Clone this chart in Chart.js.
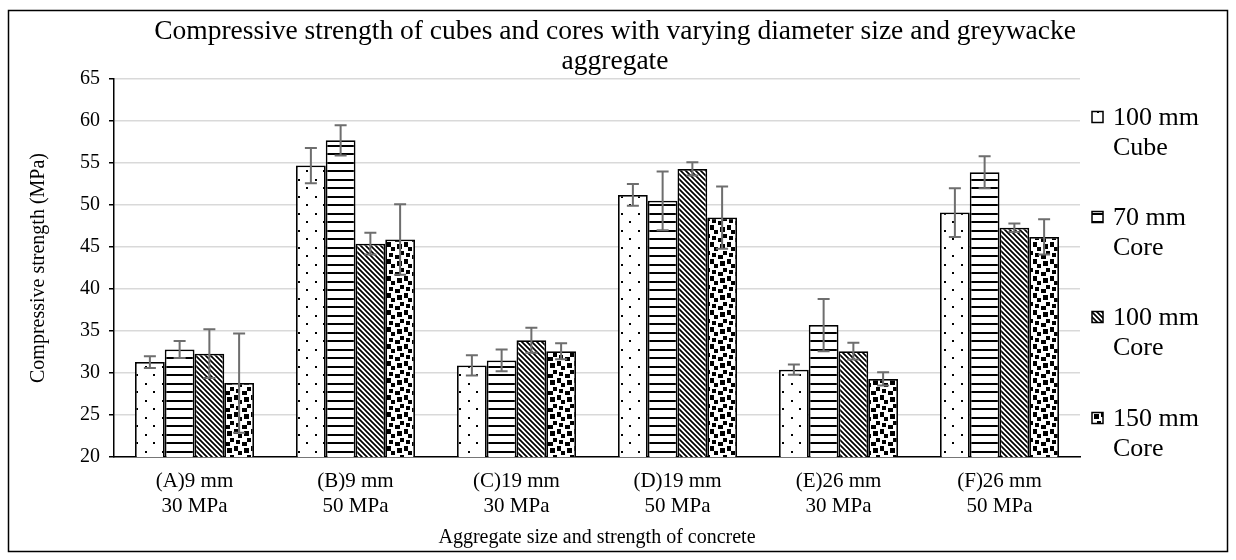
<!DOCTYPE html>
<html>
<head>
<meta charset="utf-8">
<script src="https://cdn.jsdelivr.net/npm/chart.js@4"></script>
<style>
  html, body { margin: 0; padding: 0; background: #fff; }
  #wrap { width: 1236px; height: 560px; position: relative; }
</style>
</head>
<body>
<div id="wrap"><canvas id="chart" width="1236" height="560"></canvas></div>
<script>
// Category labels (two lines each)
const categories = [
  ['(A)9 mm', '30 MPa'],
  ['(B)9 mm', '50 MPa'],
  ['(C)19 mm', '30 MPa'],
  ['(D)19 mm', '50 MPa'],
  ['(E)26 mm', '30 MPa'],
  ['(F)26 mm', '50 MPa']
];

// Series names (two lines each in the legend)
const seriesNames = [
  ['100 mm', 'Cube'],
  ['70 mm', 'Core'],
  ['100 mm', 'Core'],
  ['150 mm', 'Core']
];

// Mean compressive strength (MPa)
const cube100 = [31.3, 54.7, 30.9, 51.2, 30.4, 49.1];
const core70  = [32.8, 57.7, 31.5, 50.5, 35.7, 53.9];
const core100 = [32.3, 45.4, 33.9, 54.3, 32.6, 47.3];
const core150 = [28.8, 45.9, 32.6, 48.5, 29.3, 46.2];

// Error bar half-widths (MPa)
const cube100Err = [0.7, 2.1, 1.2, 1.3, 0.6, 2.9];
const core70Err  = [1.0, 1.8, 1.3, 3.5, 3.1, 1.9];
const core100Err = [2.9, 1.3, 1.5, 0.8, 1.0, 0.5];
const core150Err = [5.9, 4.2, 0.95, 3.7, 0.8, 2.1];

// Value axis ticks
const yMin = 20, yMax = 65, yStep = 5;

const chartTitle = ['Compressive strength of cubes and cores with varying diameter size and greywacke', 'aggregate'];
const yTitle = 'Compressive strength (MPa)';
const xTitle = 'Aggregate size and strength of concrete';

const FONT = "'Liberation Serif', 'Times New Roman', serif";

// 8x8 hatch bitmaps, one byte per row
const hatchDots     = [0x01, 0x00, 0x00, 0x00, 0x10, 0x00, 0x00, 0x00];
const hatchHoriz    = [0xff, 0x00, 0x00, 0x00, 0xff, 0x00, 0x00, 0x00];
const hatchConfetti = [0x8d, 0x0c, 0xc0, 0xd8, 0x1b, 0x03, 0x30, 0xb1];

function makeHatch(bits, tile) {
  const cv = document.createElement('canvas');
  cv.width = tile; cv.height = tile;
  const g = cv.getContext('2d');
  g.fillStyle = '#fff';
  g.fillRect(0, 0, tile, tile);
  g.fillStyle = '#000';
  const edge = i => Math.round(i * tile / 8);
  for (let r = 0; r < 8; r++) {
    for (let c = 0; c < 8; c++) {
      if ((bits[r] >> c) & 1) {
        g.fillRect(edge(c), edge(r), edge(c + 1) - edge(c), edge(r + 1) - edge(r));
      }
    }
  }
  return g.createPattern(cv, 'repeat');
}

// Downward diagonal stripes ("\\\")
function makeDiagonal(tile, width) {
  const cv = document.createElement('canvas');
  cv.width = tile; cv.height = tile;
  const g = cv.getContext('2d');
  g.fillStyle = '#fff';
  g.fillRect(0, 0, tile, tile);
  g.strokeStyle = '#000';
  g.lineWidth = width;
  const step = tile / 2;
  g.beginPath();
  for (let k = -3; k <= 3; k++) {
    const x0 = k * step;
    g.moveTo(x0 - 2, -2);
    g.lineTo(x0 + tile + 2, tile + 2);
  }
  g.stroke();
  return g.createPattern(cv, 'repeat');
}

const ctx = document.getElementById('chart').getContext('2d');
const patterns = [
  makeHatch(hatchDots, 17),
  makeHatch(hatchHoriz, 17),
  makeDiagonal(10, 1.7),
  makeHatch(hatchConfetti, 17)
];

const seriesValues = [cube100, core70, core100, core150];
const seriesErrors = [cube100Err, core70Err, core100Err, core150Err];

// Frame, title, legend and error bars
const decorations = {
  id: 'decorations',
  beforeDraw(chart) {
    const c = chart.ctx;
    c.save();
    c.fillStyle = '#fff';
    c.fillRect(0, 0, chart.width, chart.height);
    c.strokeStyle = '#000';
    c.lineWidth = 1.5;
    c.strokeRect(8.5, 10.5, 1219, 541);
    c.restore();
  },
  afterDatasetsDraw(chart) {
    const c = chart.ctx;
    const yScale = chart.scales.y;
    c.save();
    c.strokeStyle = '#6e6e6e';
    c.lineWidth = 2;
    chart.data.datasets.forEach((ds, di) => {
      const meta = chart.getDatasetMeta(di);
      meta.data.forEach((bar, i) => {
        const v = ds.data[i], e = seriesErrors[di][i];
        const yHi = yScale.getPixelForValue(v + e);
        const yLo = yScale.getPixelForValue(v - e);
        const x = bar.x;
        c.beginPath();
        c.moveTo(x, yHi); c.lineTo(x, yLo);
        c.moveTo(x - 6, yHi); c.lineTo(x + 6, yHi);
        c.moveTo(x - 6, yLo); c.lineTo(x + 6, yLo);
        c.stroke();
      });
    });
    c.restore();
  },
  afterDraw(chart) {
    const c = chart.ctx;
    c.save();
    c.fillStyle = '#000';
    c.textAlign = 'center';
    c.textBaseline = 'alphabetic';
    c.font = '27.5px ' + FONT;
    c.fillText(chartTitle[0], 615, 39);
    c.fillText(chartTitle[1], 615, 69);

    // legend
    c.font = '26px ' + FONT;
    c.textAlign = 'left';
    const baselines = [125, 225, 325, 426];
    chart.data.datasets.forEach((ds, di) => {
      const b = baselines[di];
      const size = 11;
      const ix = 1092, iy = b - 8 - size / 2;
      c.fillStyle = ds.backgroundColor;
      c.fillRect(ix, iy, size, size);
      c.strokeStyle = '#000';
      c.lineWidth = 1.5;
      c.strokeRect(ix, iy, size, size);
      c.fillStyle = '#000';
      c.fillText(seriesNames[di][0], 1113, b);
      c.fillText(seriesNames[di][1], 1113, b + 30);
    });
    c.restore();
  }
};

new Chart(ctx, {
  type: 'bar',
  data: {
    labels: categories,
    datasets: seriesValues.map((vals, i) => ({
      label: seriesNames[i].join(' '),
      data: vals,
      backgroundColor: patterns[i],
      borderColor: '#000',
      borderWidth: 1.75,
      borderSkipped: false,
      categoryPercentage: 0.739,
      barPercentage: 1.0
    }))
  },
  options: {
    responsive: false,
    animation: false,
    devicePixelRatio: 1,
    layout: { padding: { left: 10, right: 156, top: 79, bottom: 10 } },
    plugins: {
      legend: { display: false },
      title: { display: false },
      tooltip: { enabled: false }
    },
    scales: {
      x: {
        ticks: {
          color: '#000',
          font: { family: FONT, size: 21, lineHeight: 1.2 },
          padding: 12,
          maxRotation: 0,
          autoSkip: false
        },
        grid: { display: false, drawTicks: false },
        border: { display: true, color: '#000', width: 1.5 },
        title: {
          display: true,
          text: xTitle,
          color: '#000',
          font: { family: FONT, size: 20 },
          padding: { top: 0, bottom: 0 }
        },
        afterFit(scale) { scale.height = 93; }
      },
      y: {
        min: yMin,
        max: yMax,
        ticks: {
          stepSize: yStep,
          color: '#000',
          font: { family: FONT, size: 20 },
          padding: 9
        },
        grid: { color: '#d9d9d9', lineWidth: 1.5, tickLength: 5, tickColor: '#000', tickWidth: 1.5 },
        border: { display: true, color: '#000', width: 1.5 },
        title: {
          display: true,
          text: yTitle,
          color: '#000',
          font: { family: FONT, size: 20 },
          padding: { top: 17, bottom: 0 }
        },
        afterFit(scale) { scale.width = 104; }
      }
    }
  },
  plugins: [decorations]
});
</script>
</body>
</html>
